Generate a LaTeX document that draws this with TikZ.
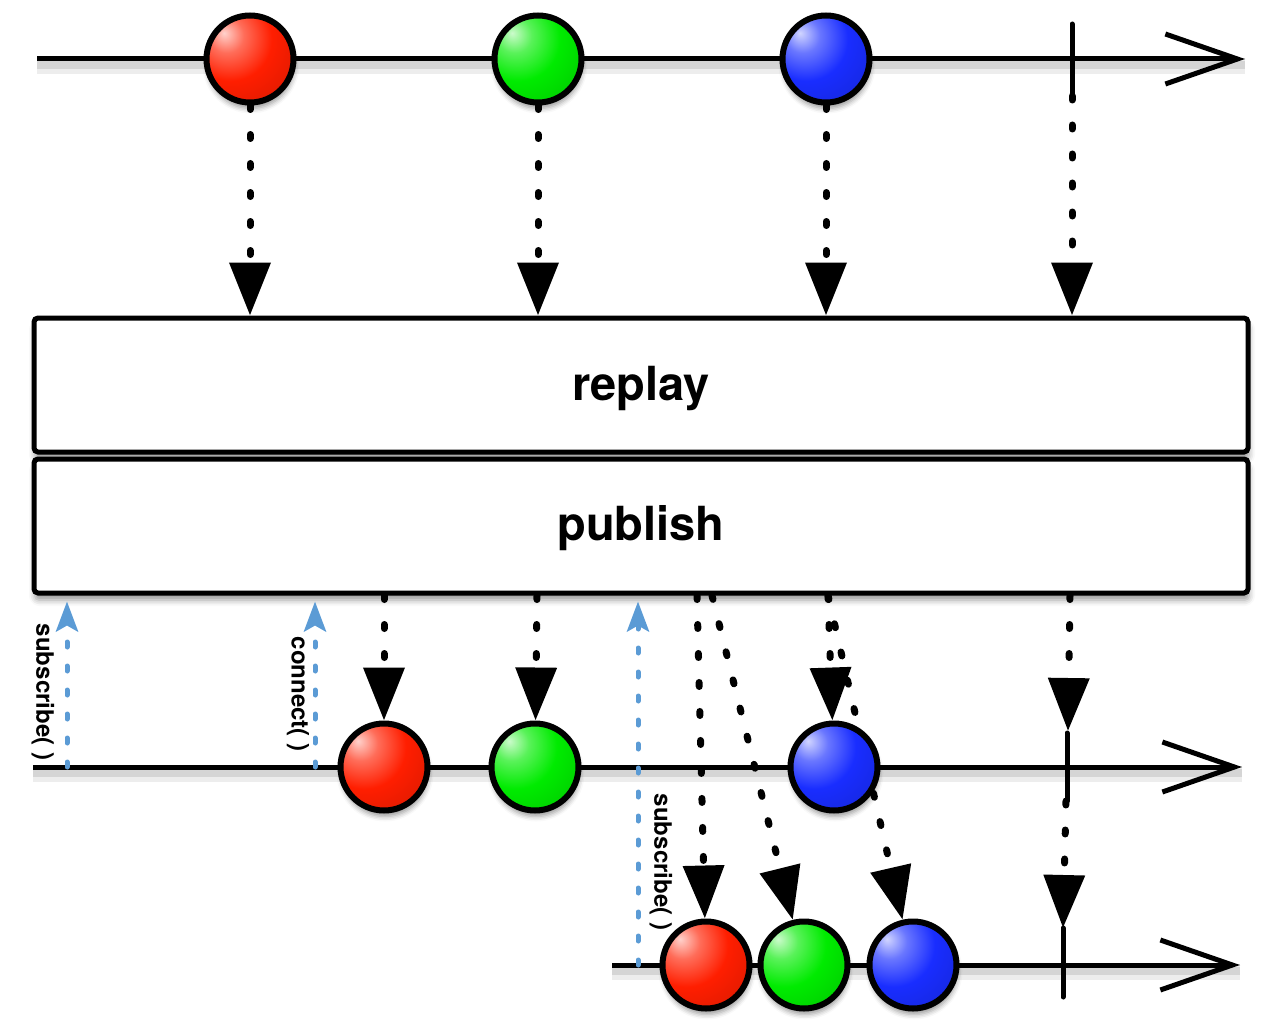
\documentclass[tikz,border=0pt]{standalone}
\usepackage{fontspec}
\setmainfont{TeX Gyre Heros}
\usetikzlibrary{arrows.meta,shadows.blur}
\definecolor{mred}{RGB}{255,30,0}
\definecolor{mgreen}{RGB}{0,235,0}
\definecolor{mblue}{RGB}{25,45,255}
\definecolor{subblue}{RGB}{91,155,213}
\pgfdeclareradialshading{redball}{\pgfqpoint{-15bp}{15bp}}{color(0bp)=(mred!20!white); color(10bp)=(mred!65!white); color(24bp)=(mred); color(45bp)=(mred!85!black); color(70bp)=(mred!55!black); color(100bp)=(mred!55!black)}
\pgfdeclareradialshading{greenball}{\pgfqpoint{-15bp}{15bp}}{color(0bp)=(mgreen!20!white); color(10bp)=(mgreen!65!white); color(24bp)=(mgreen); color(45bp)=(mgreen!85!black); color(70bp)=(mgreen!55!black); color(100bp)=(mgreen!55!black)}
\pgfdeclareradialshading{blueball}{\pgfqpoint{-15bp}{15bp}}{color(0bp)=(mblue!20!white); color(10bp)=(mblue!65!white); color(24bp)=(mblue); color(45bp)=(mblue!85!black); color(70bp)=(mblue!55!black); color(100bp)=(mblue!55!black)}
\begin{document}
\begin{tikzpicture}[x=1pt,y=-1pt,
  tline/.style={line width=5pt,-{Straight Barb[length=72pt,width=50pt]}},
  lshadowA/.style={draw=black,opacity=.07,line width=16pt,transform canvas={yshift=-7pt}},
  lshadowB/.style={draw=black,opacity=.10,line width=8pt,transform canvas={yshift=-6pt}},
  marble/.style={circle,draw=black,line width=6pt,minimum size=87pt,inner sep=0pt,
    blur shadow={shadow xshift=1pt,shadow yshift=-6pt,shadow blur radius=5pt,shadow opacity=40}},
  opbox/.style={draw=black,line width=5pt,fill=white,rounded corners=4pt,
    minimum width=1214pt,minimum height=134pt,inner sep=0pt,
    blur shadow={shadow xshift=1pt,shadow yshift=-7pt,shadow blur radius=6pt,shadow opacity=40}},
  optext/.style={font=\bfseries\fontsize{47}{50}\selectfont,inner sep=0pt},
  ev/.style={line width=7pt,line cap=round,dash pattern=on 4pt off 25pt,
    -{Triangle[length=53pt,width=40pt]}},
  subarr/.style={draw=subblue,line width=5pt,line cap=round,dash pattern=on 5pt off 19pt,
    -{Stealth[length=30pt,width=22pt,inset=6pt]},shorten >=6pt},
  tickmark/.style={line width=5pt,line cap=round},
  lbl/.style={font=\bfseries\fontsize{24}{26}\selectfont,inner sep=0pt,rotate=-90}
]
\useasboundingbox (0,0) rectangle (1280,1030);

% time lines coordinates
\coordinate (t0) at (37,59);   \coordinate (t1) at (1245,59);
\coordinate (m0) at (33,767);  \coordinate (m1) at (1242,767);
\coordinate (u0) at (612,965); \coordinate (u1) at (1240,965);
% completion ticks
\coordinate (c1t) at (1072,24);  \coordinate (c1b) at (1072,96);
\coordinate (c2t) at (1068,731); \coordinate (c2b) at (1066,801);
\coordinate (c3t) at (1063,928); \coordinate (c3b) at (1063,997);
% start points under publish
\coordinate (q2) at (537,0);
\coordinate (q3) at (828,0);
\coordinate (q4) at (697,0);
\coordinate (q5) at (712,0);
\coordinate (q6) at (1070,0);
% subscription points
\coordinate (s1) at (67,767);
\coordinate (s2) at (315,767);
\coordinate (s3) at (638,965);

% line shadows
\foreach \a/\b in {t0/t1,m0/m1,u0/u1}{
  \draw[lshadowA] (\a) -- (\b);
  \draw[lshadowB] (\a) -- (\b);
}
% time lines
\draw[tline] (t0) -- (t1);
\draw[tline] (m0) -- (m1);
\draw[tline] (u0) -- (u1);

% operator boxes
\node[opbox] (replay) at (641,385) {};
\node[opbox] (publish) at (641,526) {};
\node[optext] (replaytxt) at (641,389) {replay};
\node[optext] (publishtxt) at (641,528) {publish};

% invisible marble placeholders (for connector ends)
\node[marble,draw=none,blur shadow={shadow opacity=0}] (a1) at (250,59) {};
\node[marble,draw=none,blur shadow={shadow opacity=0}] (a2) at (538,59) {};
\node[marble,draw=none,blur shadow={shadow opacity=0}] (a3) at (826,59) {};
\node[marble,draw=none,blur shadow={shadow opacity=0}] (b1) at (384,767) {};
\node[marble,draw=none,blur shadow={shadow opacity=0}] (b2) at (535,767) {};
\node[marble,draw=none,blur shadow={shadow opacity=0}] (b3) at (834,767) {};
\node[marble,draw=none,blur shadow={shadow opacity=0}] (d1) at (706,965) {};
\node[marble,draw=none,blur shadow={shadow opacity=0}] (d2) at (804,965) {};
\node[marble,draw=none,blur shadow={shadow opacity=0}] (d3) at (913,965) {};

% top emissions
\draw[ev] (a1) -- (a1 |- replay.north);
\draw[ev] (a2) -- (a2 |- replay.north);
\draw[ev] (a3) -- (a3 |- replay.north);
\draw[ev] (c1b) -- (c1b |- replay.north);

% emissions to first subscriber
\draw[ev] (b1 |- publish.south) -- (b1);
\draw[ev] (publish.south -| q2) -- (b2);
\draw[ev] (publish.south -| q3) -- (b3);
\draw[ev] (publish.south -| q6) -- (c2t);

% emissions to second subscriber (replayed)
\draw[ev] (publish.south -| q4) -- (d1);
\draw[ev] (publish.south -| q5) -- (d2);
\draw[ev] (publish.south -| q3) -- (d3);
\draw[ev] (c2b) -- (c3t);

% subscribe / connect calls
\draw[subarr] (s1) -- (s1 |- publish.south);
\draw[subarr] (s2) -- (s2 |- publish.south);
\draw[subarr] (s3) -- (s3 |- publish.south);
\node[lbl] (l1) at (43,692) {subscribe( )};
\node[lbl] (l2) at (298,694) {connect( )};
\node[lbl] (l3) at (661,862) {subscribe( )};

% completion ticks
\draw[tickmark] (c1t) -- (c1b);
\draw[tickmark] (1067,733) coordinate (c2u) -- (1067,801) coordinate (c2d);
\draw[tickmark] (c3t) -- (c3b);

% marbles
\node[marble,shading=redball] at (a1) {};
\node[marble,shading=greenball] at (a2) {};
\node[marble,shading=blueball] at (a3) {};
\node[marble,shading=redball] at (b1) {};
\node[marble,shading=greenball] at (b2) {};
\node[marble,shading=blueball] at (b3) {};
\node[marble,shading=redball] at (d1) {};
\node[marble,shading=greenball] at (d2) {};
\node[marble,shading=blueball] at (d3) {};
\end{tikzpicture}
\end{document}
